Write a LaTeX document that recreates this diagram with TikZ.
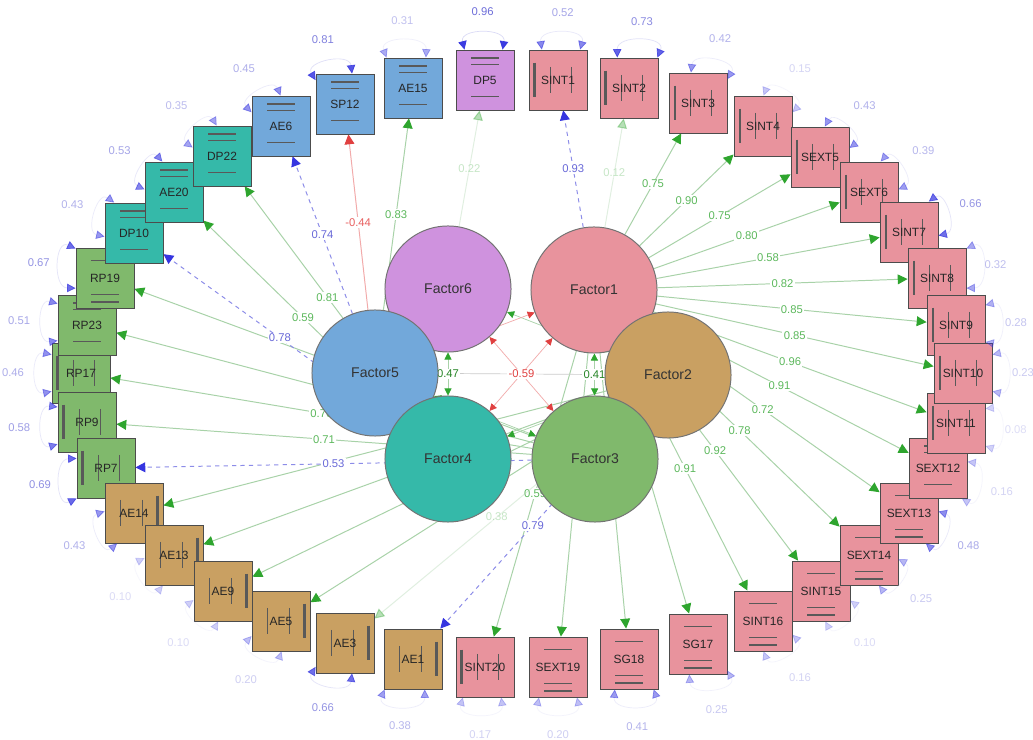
\documentclass[tikz,border=0pt]{standalone}
\usepackage{fontspec}
\setmainfont{Liberation Sans}
\usetikzlibrary{arrows.meta, backgrounds}

\definecolor{fone}{HTML}{E8939D}
\definecolor{ftwo}{HTML}{C9A062}
\definecolor{fthree}{HTML}{80B96C}
\definecolor{ffour}{HTML}{35B9A9}
\definecolor{ffive}{HTML}{72A8DA}
\definecolor{fsix}{HTML}{CF92DE}
\definecolor{lgreen}{HTML}{A8D2A8}
\definecolor{agreen}{HTML}{2EA52E}
\definecolor{tgreen}{HTML}{5CB85C}
\definecolor{lred}{HTML}{F2AAAA}
\definecolor{ared}{HTML}{E04040}
\definecolor{tred}{HTML}{E86060}
\definecolor{lblue}{HTML}{8C8CE8}
\definecolor{ablue}{HTML}{3535E0}
\definecolor{tblue}{HTML}{6868D8}
\definecolor{evarc}{HTML}{DADAF6}

\tikzset{
  barl/.style={draw=black!65, line width=0.5pt},
  ind/.style={draw=black!70, line width=0.6pt, minimum width=1.45cm, minimum height=1.5cm,
    inner sep=0pt, text=black!85, font=\fontsize{8.5}{9}\selectfont},
  fac/.style={circle, draw=black!55, line width=0.7pt, minimum size=3.15cm, inner sep=0pt,
    text=black!80, font=\fontsize{10}{11}\selectfont},
  hb/.style={path picture={
    \draw[barl, line width=1.4pt] ([xshift=11pt,yshift=-6pt]path picture bounding box.north west) -- ([xshift=-11pt,yshift=-6pt]path picture bounding box.north east);
    \draw[barl] ([xshift=11pt,yshift=-10pt]path picture bounding box.north west) -- ([xshift=-11pt,yshift=-10pt]path picture bounding box.north east);
    \draw[barl] ([xshift=11pt,yshift=10pt]path picture bounding box.south west) -- ([xshift=-11pt,yshift=10pt]path picture bounding box.south east);}},
  hbb/.style={path picture={
    \draw[barl] ([xshift=11pt,yshift=-9pt]path picture bounding box.north west) -- ([xshift=-11pt,yshift=-9pt]path picture bounding box.north east);
    \draw[barl] ([xshift=11pt,yshift=10pt]path picture bounding box.south west) -- ([xshift=-11pt,yshift=10pt]path picture bounding box.south east);
    \draw[barl, line width=1.4pt] ([xshift=11pt,yshift=4pt]path picture bounding box.south west) -- ([xshift=-11pt,yshift=4pt]path picture bounding box.south east);}},
  vbl/.style={path picture={
    \draw[barl, line width=1.6pt] ([xshift=4pt,yshift=-9pt]path picture bounding box.north west) -- ([xshift=4pt,yshift=9pt]path picture bounding box.south west);
    \draw[barl] ([xshift=15pt,yshift=-12pt]path picture bounding box.north west) -- ([xshift=15pt,yshift=12pt]path picture bounding box.south west);
    \draw[barl] ([xshift=-11pt,yshift=-12pt]path picture bounding box.north east) -- ([xshift=-11pt,yshift=12pt]path picture bounding box.south east);}},
  vbr/.style={path picture={
    \draw[barl, line width=1.6pt] ([xshift=-4pt,yshift=-9pt]path picture bounding box.north east) -- ([xshift=-4pt,yshift=9pt]path picture bounding box.south east);
    \draw[barl] ([xshift=-15pt,yshift=-12pt]path picture bounding box.north east) -- ([xshift=-15pt,yshift=12pt]path picture bounding box.south east);
    \draw[barl] ([xshift=11pt,yshift=-12pt]path picture bounding box.north west) -- ([xshift=11pt,yshift=12pt]path picture bounding box.south west);}},
  lab/.style={fill=white, inner sep=1pt, font=\fontsize{8}{9}\selectfont},
  pl/.style={draw=lgreen, line width=0.7pt, -{Triangle[length=7pt,width=7pt,color=agreen]}, nodes={lab, text=tgreen}},
  nl/.style={draw=lred, line width=0.7pt, -{Triangle[length=7pt,width=7pt,color=ared]}, nodes={lab, text=tred}},
  rl/.style={draw=lblue, dashed, line width=0.7pt, -{Triangle[length=7pt,width=7pt,color=ablue]}, nodes={lab, text=tblue}},
  faint/.style={opacity=0.35},
  cp/.style={draw=lgreen, line width=0.5pt, {Triangle[length=5pt,width=5pt,color=agreen]}-{Triangle[length=5pt,width=5pt,color=agreen]}, nodes={lab, text=agreen!80!black}},
  cn/.style={draw=lred, line width=0.5pt, {Triangle[length=5pt,width=5pt,color=ared]}-{Triangle[length=5pt,width=5pt,color=ared]}, nodes={lab, text=ared}},
  cg/.style={draw=black!20, line width=0.5pt},
  ev/.style={draw=evarc, line width=0.5pt, {Triangle[length=6pt,width=6pt,color=ablue]}-{Triangle[length=6pt,width=6pt,color=ablue]}},
  evlab/.style={text=tblue, inner sep=1pt, font=\fontsize{8}{9}\selectfont}
}

\begin{document}
\begin{tikzpicture}[x=0.025cm, y=-0.025cm]
\useasboundingbox (0,0) rectangle (1033,740);

% factors
\node[fac, fill=fsix]   (F6) at (448,289) {Factor6};
\node[fac, fill=fone]   (F1) at (594,290) {Factor1};
\node[fac, fill=ffive]  (F5) at (375,373) {Factor5};
\node[fac, fill=ftwo]   (F2) at (668,375) {Factor2};
\node[fac, fill=ffour]  (F4) at (448,459) {Factor4};
\node[fac, fill=fthree] (F3) at (595,459) {Factor3};

% indicators, left to right
\node[ind, fill=fthree, vbl] (RP17)   at (81,373)  {RP17};
\node[ind, fill=fthree, vbl] (RP9)    at (87,422)  {RP9};
\node[ind, fill=fthree, hb]  (RP23)   at (87,325)  {RP23};
\node[ind, fill=fthree, hbb] (RP19)   at (105,278) {RP19};
\node[ind, fill=fthree, vbl] (RP7)    at (106,468) {RP7};
\node[ind, fill=ffour, hb]   (DP10)   at (134,233) {DP10};
\node[ind, fill=ftwo, vbr]   (AE14)   at (134,513) {AE14};
\node[ind, fill=ffour, hb]   (AE20)   at (174,192) {AE20};
\node[ind, fill=ftwo, vbr]   (AE13)   at (174,555) {AE13};
\node[ind, fill=ffour, hb]   (DP22)   at (222,156) {DP22};
\node[ind, fill=ftwo, vbr]   (AE9)    at (223,591) {AE9};
\node[ind, fill=ffive, hb]   (AE6)    at (281,126) {AE6};
\node[ind, fill=ftwo, vbr]   (AE5)    at (281,621) {AE5};
\node[ind, fill=ffive, hb]   (SP12)   at (345,104) {SP12};
\node[ind, fill=ftwo, vbr]   (AE3)    at (345,643) {AE3};
\node[ind, fill=ffive, hb]   (AE15)   at (413,88)  {AE15};
\node[ind, fill=ftwo, vbr]   (AE1)    at (413,659) {AE1};
\node[ind, fill=fsix, hb]    (DP5)    at (485,80)  {DP5};
\node[ind, fill=fone, vbl]   (SINT20) at (485,667) {SINT20};
\node[ind, fill=fone, vbl]   (SINT1)  at (558,80)  {SINT1};
\node[ind, fill=fone, hbb]   (SEXT19) at (558,667) {SEXT19};
\node[ind, fill=fone, vbl]   (SINT2)  at (629,88)  {SINT2};
\node[ind, fill=fone, hbb]   (SG18)   at (629,659) {SG18};
\node[ind, fill=fone, vbl]   (SINT3)  at (698,103) {SINT3};
\node[ind, fill=fone, hbb]   (SG17)   at (698,644) {SG17};
\node[ind, fill=fone, vbl]   (SINT4)  at (763,126) {SINT4};
\node[ind, fill=fone, hbb]   (SINT16) at (763,621) {SINT16};
\node[ind, fill=fone, vbl]   (SEXT5)  at (820,157) {SEXT5};
\node[ind, fill=fone, hbb]   (SINT15) at (821,591) {SINT15};
\node[ind, fill=fone, vbl]   (SEXT6)  at (869,192) {SEXT6};
\node[ind, fill=fone, hbb]   (SEXT14) at (869,555) {SEXT14};
\node[ind, fill=fone, vbl]   (SINT7)  at (909,232) {SINT7};
\node[ind, fill=fone, hbb]   (SEXT13) at (909,513) {SEXT13};
\node[ind, fill=fone, vbl]   (SINT8)  at (937,278) {SINT8};
\node[ind, fill=fone, hb]    (SEXT12) at (938,468) {SEXT12};
\node[ind, fill=fone, vbl]   (SINT9)  at (956,325) {SINT9};
\node[ind, fill=fone, vbl]   (SINT11) at (956,423) {SINT11};
\node[ind, fill=fone, vbl]   (SINT10) at (963,373) {SINT10};

% loadings and covariances, behind the circles
\begin{scope}[on background layer]
  \fill[white] (0,0) rectangle (1033,740);
  \path (F1) edge[rl] node {0.93} (SINT1)
        (F1) edge[pl, faint] node {0.12} (SINT2)
        (F1) edge[pl] node {0.75} (SINT3)
        (F1) edge[pl] node {0.90} (SINT4)
        (F1) edge[pl] node {0.75} (SEXT5)
        (F1) edge[pl] node {0.80} (SEXT6)
        (F1) edge[pl] node {0.58} (SINT7)
        (F1) edge[pl] node {0.82} (SINT8)
        (F1) edge[pl] node {0.85} (SINT9)
        (F1) edge[pl] node {0.85} (SINT10)
        (F1) edge[pl] node {0.96} (SINT11)
        (F1) edge[pl] node {0.91} (SEXT12)
        (F1) edge[pl] node {0.72} (SEXT13)
        (F1) edge[pl] node {0.78} (SEXT14)
        (F1) edge[pl] node {0.92} (SINT15)
        (F1) edge[pl] node {0.91} (SINT16)
        (F1) edge[pl] (SG17)
        (F1) edge[pl] (SG18)
        (F1) edge[pl] (SEXT19)
        (F1) edge[pl] node {0.59} (SINT20);
  \path (F2) edge[rl] node {0.79} (AE1)
        (F2) edge[pl, faint] node {0.38} (AE3)
        (F2) edge[pl] (AE5)
        (F2) edge[pl] (AE9)
        (F2) edge[pl] (AE13)
        (F2) edge[pl] (AE14);
  \path (F3) edge[rl] node {0.53} (RP7)
        (F3) edge[pl] node {0.71} (RP9)
        (F3) edge[pl] node {0.76} (RP17)
        (F3) edge[pl] (RP23)
        (F3) edge[pl] (RP19);
  \path (F4) edge[rl] node {0.78} (DP10)
        (F4) edge[pl] node {0.59} (AE20)
        (F4) edge[pl] node {0.81} (DP22);
  \path (F5) edge[rl] node {0.74} (AE6)
        (F5) edge[nl] node {-0.44} (SP12)
        (F5) edge[pl] node {0.83} (AE15);
  \path (F6) edge[pl, faint] node {0.22} (DP5);

  \path (F5) edge[cg] (F2)
        (F6) edge[cp] (F2)
        (F5) edge[cn] (F1)
        (F5) edge[cp] (F3)
        (F4) edge[cp] (F2)
        (F6) edge[cp] node {0.47} (F4)
        (F1) edge[cp] node {0.41} (F3)
        (F1) edge[cn] (F4)
        (F6) edge[cn] node {-0.59} (F3);
\end{scope}

% error variances
\foreach \b/\a/\v in {DP10/155/0.43, AE20/143/0.53, DP22/132/0.35, AE6/123/0.45, SP12/109/0.81,
    AE15/99/0.31, DP5/92/0.96, SINT1/86/0.52, SINT2/79/0.73, SINT3/71/0.42, SINT4/57/0.15,
    SEXT5/49/0.43, SEXT6/37/0.39, SINT7/25/0.66, SINT8/13/0.32, SINT9/2/0.28, SINT10/0/0.23,
    SINT11/-6/0.08, SEXT12/-20/0.16, SEXT13/-29/0.48, SEXT14/-40/0.25, SINT15/-50/0.10,
    SINT16/-57/0.16, SG17/-74/0.25, SG18/-83/0.41, SEXT19/-90/0.20, SINT20/-94/0.17,
    AE1/-101/0.38, AE3/-109/0.66, AE5/-121/0.20, AE9/-131/0.10, AE13/-142/0.10, AE14/-151/0.43,
    RP7/-166/0.69, RP9/-175/0.58, RP17/180/0.46, RP23/176/0.51, RP19/167/0.67}{
  \pgfmathtruncatemacro\p{\a+32}
  \pgfmathtruncatemacro\q{\a-32}
  \pgfmathsetmacro\o{0.15+0.85*\v}
  \pgfmathsetlengthmacro\r{1.7cm-0.2cm*(abs(\a)<15)}
  \draw[ev, opacity=\o] (\b.\p) to[out=\a+12, in=\a-12, looseness=1.5] (\b.\q);
  \node[evlab, opacity=\o] (e\b) at ([shift={(\a:\r)}]\b.center) {\v};
}
\end{tikzpicture}
\end{document}
